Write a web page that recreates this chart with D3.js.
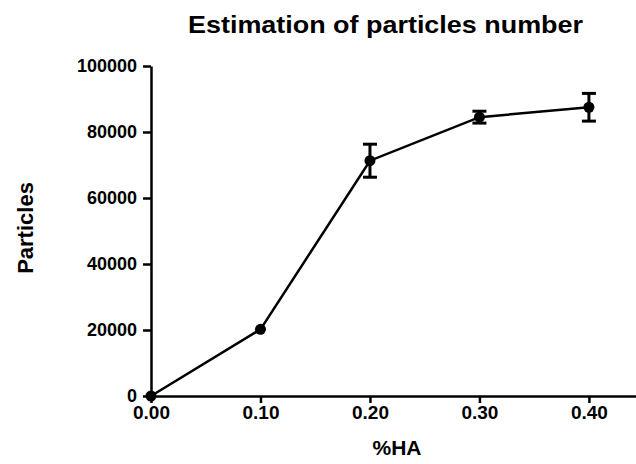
<!DOCTYPE html>
<html>
<head>
<meta charset="utf-8">
<script src="https://cdn.jsdelivr.net/npm/d3@7"></script>
<style>
html,body{margin:0;padding:0;background:#fff;}
svg{display:block;}
text{font-family:"Liberation Sans",Arial,sans-serif;}
</style>
</head>
<body>
<svg id="chart" width="636" height="464"></svg>
<script>
const xValues = [0.00, 0.10, 0.20, 0.30, 0.40];
const yMeans = [0, 20200, 71300, 84500, 87500];
const yErrors = [0, 0, 5000, 1800, 4200];
const xTicks = [0.00, 0.10, 0.20, 0.30, 0.40];
const yTicks = [0, 20000, 40000, 60000, 80000, 100000];
const titleText = "Estimation of particles number";
const xLabel = "%HA";
const yLabel = "Particles";

const svg = d3.select("#chart");
const x = d3.scaleLinear().domain([0, 0.443]).range([151, 636]);
const y = d3.scaleLinear().domain([0, 100000]).range([396, 66]);

// axes
const yAxis = svg.append("g").attr("transform", "translate(151,0)")
  .call(d3.axisLeft(y).tickValues(yTicks).tickFormat(d3.format("d")).tickSize(8).tickSizeOuter(0).tickPadding(6));
yAxis.selectAll("text").style("font-size", "18px").style("font-weight", "bold").attr("fill", "#000");

const xAxis = svg.append("g").attr("transform", "translate(0,396)")
  .call(d3.axisBottom(x).tickValues(xTicks).tickFormat(d3.format(".2f")).tickSize(7).tickSizeOuter(0).tickPadding(3));
xAxis.selectAll("text").style("font-size", "19px").style("font-weight", "bold").attr("fill", "#000");

svg.selectAll(".domain, .tick line").attr("stroke", "#000").attr("stroke-width", 2.5);

// line
const line = d3.line().x((d, i) => x(xValues[i])).y(d => y(d));
svg.append("path").datum(yMeans).attr("d", line)
  .attr("fill", "none").attr("stroke", "#000").attr("stroke-width", 2.5);

// error bars
const eb = svg.append("g").attr("stroke", "#000").attr("stroke-width", 3);
yMeans.forEach((m, i) => {
  const e = yErrors[i];
  if (!e) return;
  const cx = x(xValues[i]);
  eb.append("line").attr("x1", cx).attr("x2", cx).attr("y1", y(m + e)).attr("y2", y(m - e));
  eb.append("line").attr("x1", cx - 7).attr("x2", cx + 7).attr("y1", y(m + e)).attr("y2", y(m + e));
  eb.append("line").attr("x1", cx - 7).attr("x2", cx + 7).attr("y1", y(m - e)).attr("y2", y(m - e));
});

// markers
svg.append("g").selectAll("circle").data(yMeans).join("circle")
  .attr("cx", (d, i) => x(xValues[i])).attr("cy", d => y(d)).attr("r", 5.5).attr("fill", "#000");

// titles
svg.append("text").attr("x", 385.5).attr("y", 33).attr("text-anchor", "middle")
  .style("font-size", "24px").style("font-weight", "bold")
  .attr("textLength", 395).attr("lengthAdjust", "spacingAndGlyphs").text(titleText);
svg.append("text").attr("x", 397).attr("y", 455).attr("text-anchor", "middle")
  .style("font-size", "21px").style("font-weight", "bold").text(xLabel);
svg.append("text").attr("transform", "translate(33,228) rotate(-90)").attr("text-anchor", "middle")
  .style("font-size", "22px").style("font-weight", "bold").text(yLabel);
</script>
</body>
</html>
